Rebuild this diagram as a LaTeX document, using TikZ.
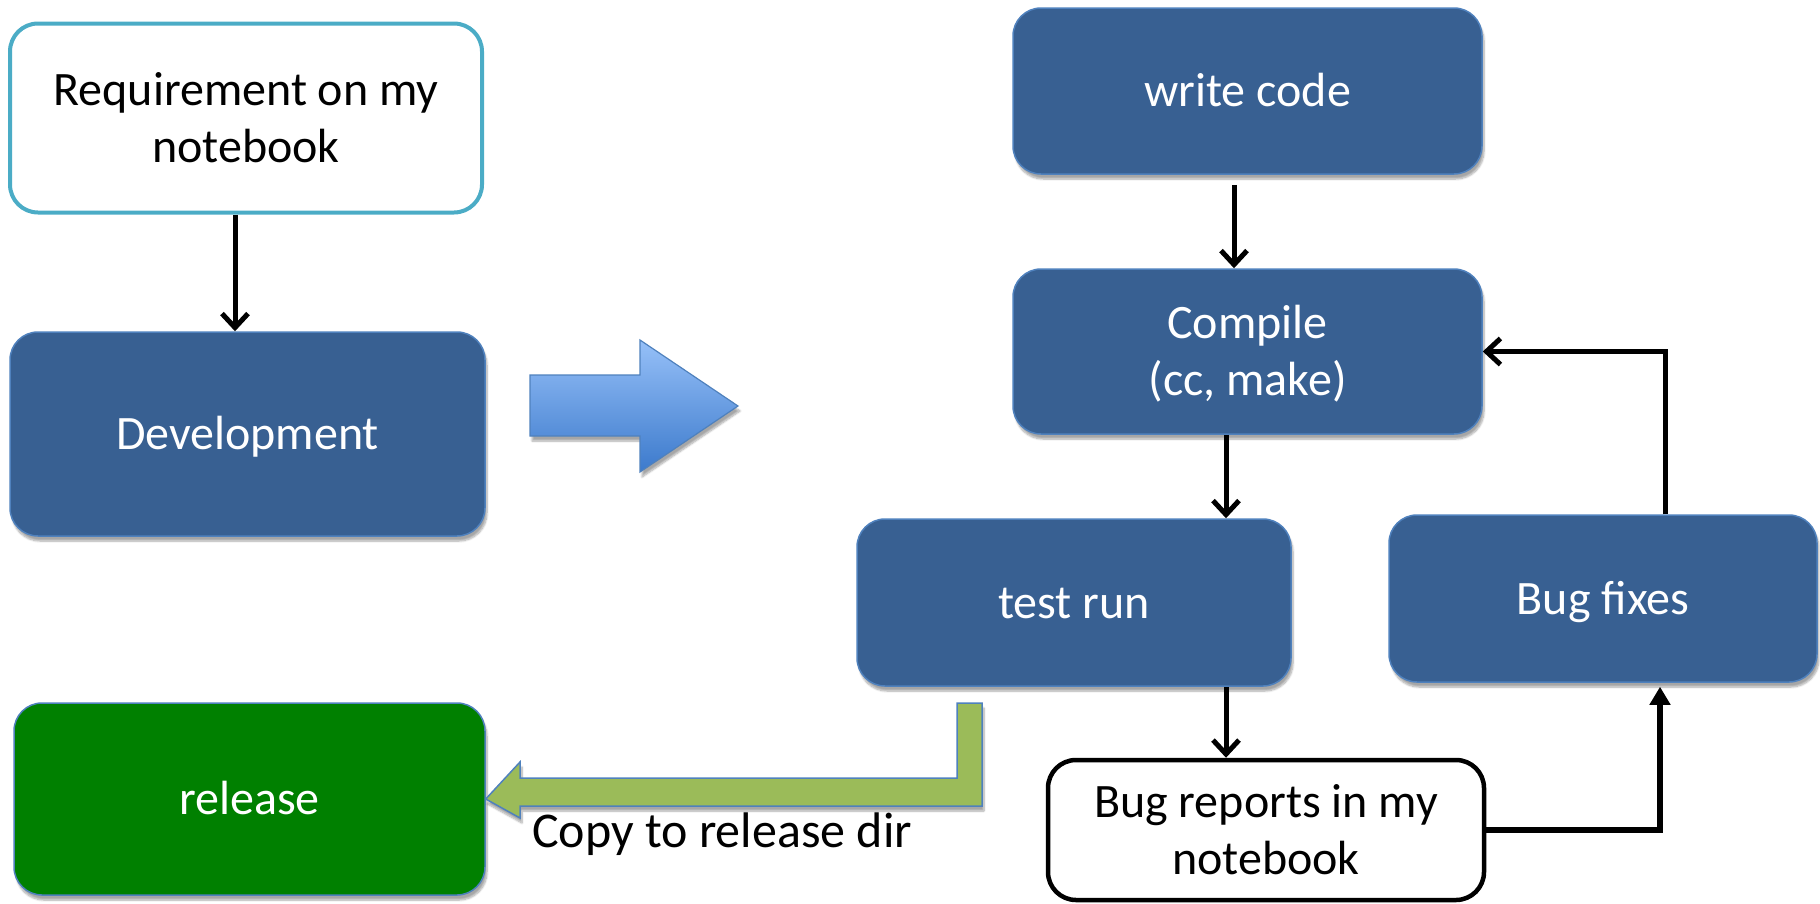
\documentclass[tikz,border=0pt]{standalone}
\usepackage{fontspec}
\setmainfont{Carlito}
\usetikzlibrary{arrows.meta,shadows.blur,calc}

\definecolor{boxblue}{RGB}{56,96,146}
\definecolor{edgeblue}{RGB}{79,129,189}
\definecolor{reqteal}{RGB}{75,172,198}
\definecolor{relgreen}{RGB}{0,128,0}
\definecolor{copygreen}{RGB}{155,187,89}
\definecolor{bigtop}{RGB}{150,192,248}
\definecolor{bigbot}{RGB}{60,122,204}

\begin{document}
\begin{tikzpicture}[x=1pt,y=-1pt,
  every node/.style={font=\fontsize{48}{57}\selectfont},
  % fixed text box so every label sits at the same spot in its box
  box/.style={rectangle, rounded corners=28pt, align=center, inner sep=0pt,
      text height=46pt, text depth=15pt},
  twolines/.style={text height=103pt},
  softshadow/.style={blur shadow={shadow xshift=2pt, shadow yshift=-5pt,
      shadow blur steps=8, shadow opacity=35}},
  bluebox/.style={box, fill=boxblue, draw=edgeblue, line width=1.5pt,
      text=white, softshadow},
  flow/.style={draw=black, line width=5pt,
      -{Straight Barb[length=14pt,width=26pt]}},
  flowfilled/.style={draw=black, line width=5.5pt,
      -{Triangle[length=18pt,width=20pt]}},
]
\useasboundingbox (0,0) rectangle (1820,903);

% left column
\node[box, twolines, draw=reqteal, line width=4pt, fill=white,
      minimum width=472pt, minimum height=189pt] (req) at (246,118)
      {Requirement on my\\notebook};
\node[bluebox, minimum width=475pt, minimum height=204pt] (dev) at (247.5,434)
      {Development};
\node[box, fill=relgreen, draw=edgeblue, line width=1.5pt, text=white,
      softshadow, minimum width=471pt, minimum height=192pt] (release) at (249.5,799)
      {release};

% right column
\node[bluebox, minimum width=469pt, minimum height=166pt] (write) at (1247.5,91)
      {write code};
\node[bluebox, twolines, minimum width=469pt, minimum height=165pt] (compile) at (1247.5,351.5)
      {Compile\\(cc, make)};
\node[bluebox, minimum width=434pt, minimum height=167pt] (test) at (1074,602.5)
      {test run};
\node[bluebox, minimum width=428pt, minimum height=167pt] (fixes) at (1603,598.5)
      {Bug fixes};
\node[box, twolines, fill=white, draw=black, line width=4.5pt,
      minimum width=436pt, minimum height=140pt] (reports) at (1266,830)
      {Bug reports in my\\notebook};

\node[anchor=base west, inner sep=0pt, font=\fontsize{50}{60}\selectfont]
      (copylbl) at (532,847) {Copy to release dir};

% block arrow between the two halves
\shade[top color=bigtop, bottom color=bigbot, draw=edgeblue, line width=1.2pt,
       softshadow]
  (530,375) -- (640,375) -- (640,340) -- (738,406) -- (640,472)
  -- (640,436) -- (530,436) -- cycle;

% copy arrow from test run to release
\filldraw[fill=copygreen, draw=edgeblue, line width=1.5pt, softshadow]
  (957,703) -- (982,703) -- (982,806) -- (520,806) -- (520,818)
  -- (release.east) -- (520,762) -- (520,778) -- (957,778) -- cycle;

% connectors
\draw[flow] ([xshift=-11pt]req.south) -- ([xshift=-11pt]req.south |- dev.north);
\draw[flow] ([xshift=-13.5pt,yshift=-10pt]write.south) -- ([xshift=-13.5pt]compile.north);
\coordinate (c1) at ([xshift=-21.5pt]compile.south);
\draw[flow] (c1) -- (c1 |- test.north);
\coordinate (t1) at ([xshift=-40pt]reports.north);
\draw[flow] (t1 |- test.south) -- (t1);
\draw[flow] ([xshift=62pt]fixes.north) |- (compile.east);
\draw[flowfilled] (reports.east) -| ([xshift=57pt,yshift=-4pt]fixes.south);

\end{tikzpicture}
\end{document}
